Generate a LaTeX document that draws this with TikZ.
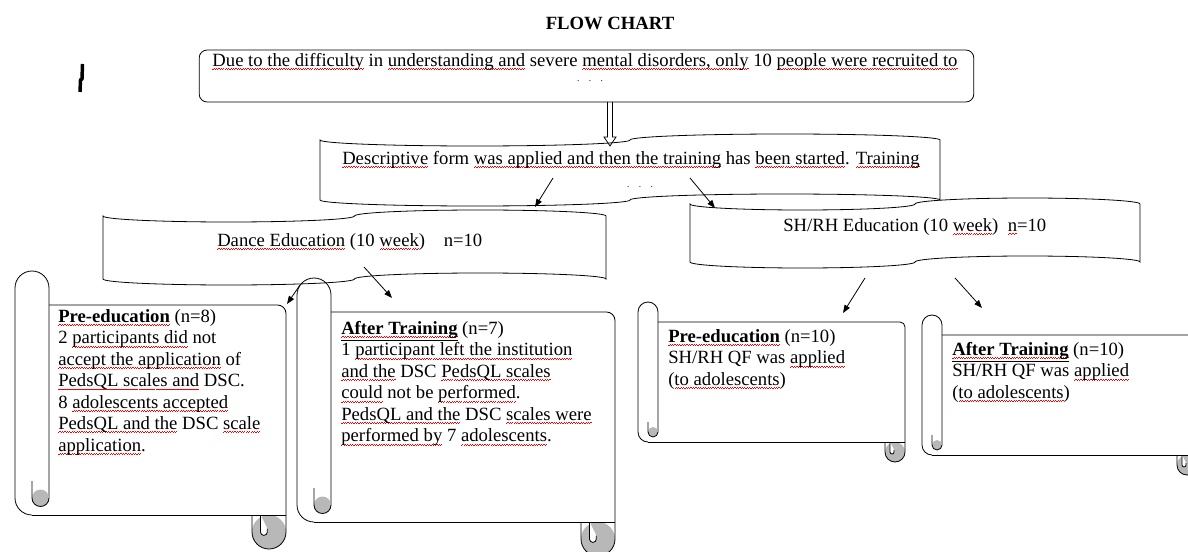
\documentclass[tikz,border=0pt]{standalone}
\usepackage{fontspec}
\setmainfont{Liberation Serif}
\usetikzlibrary{arrows.meta,calc}

\colorlet{curlgray}{black!28}
% spell-check squiggle under a word
\newsavebox{\sqbox}
\newcommand{\sqwave}{\hbox{\rule{0.9pt}{0.45pt}\raise0.7pt\hbox{\rule{0.9pt}{0.45pt}}}}
\newcommand{\sq}[1]{\sbox{\sqbox}{#1}\rlap{\lower2.6pt\hbox to \wd\sqbox{\color{red}\xleaders\sqwave\hfill}}\usebox{\sqbox}}

% wavy banner (punched tape): left, top, right, bottom
\newcommand{\punchtape}[4]{%
  \pgfmathsetmacro{\tq}{(#3-#1)/4}
  \draw[shapeline] (#1,#2) arc[start angle=180, end angle=0, x radius=\tq, y radius=6]
    arc[start angle=180, end angle=360, x radius=\tq, y radius=6]
    -- (#3,#4) arc[start angle=0, end angle=-180, x radius=\tq, y radius=6]
    arc[start angle=0, end angle=180, x radius=\tq, y radius=6] -- cycle;
}

% scroll: left, top, right, bottom, roll size
\newcommand{\scrollsheet}[5]{%
  \pgfmathsetmacro{\sa}{#5}
  \pgfmathsetmacro{\sb}{#5/2}
  \pgfmathsetmacro{\sc}{#5/4}
  % bottom right curl
  \fill[curlgray] (#3-\sb,#4-\sb) circle[radius=\sb];
  \fill[white] (#3-\sb-\sc,#4-\sa) -- (#3-\sb-\sc,#4-\sb)
    arc[start angle=180, end angle=0, radius=0.4*\sc] -- (#3-\sb-0.2*\sc,#4-\sb-0.4*\sc) -- cycle;
  \draw[shapeline] (#3-\sb-\sc,#4-\sa) -- (#3-\sb-\sc,#4-\sb)
    arc[start angle=180, end angle=0, radius=0.4*\sc] -- (#3-\sb-0.2*\sc,#4-\sb-0.4*\sc);
  % sheet
  \draw[shapeline] (#1+\sa,#2+\sa) -- (#3-\sc,#2+\sa) arc[start angle=270, end angle=360, radius=\sc]
    -- (#3,#4-\sb) arc[start angle=0, end angle=180, radius=\sb] -- (#3-\sa,#4-\sa);
  \draw[shapeline] (#1+\sb,#4-\sa) -- (#3,#4-\sa);
  % left roll
  \draw[shapeline] (#1+\sa,#4-\sa-\sb) -- (#1+\sa,#2+\sb) arc[start angle=0, end angle=-180, radius=\sb]
    -- (#1,#4-\sa-\sb) arc[start angle=180, end angle=90, radius=\sb];
  \fill[curlgray] (#1+\sb+\sc,#4-\sa-\sb) circle[radius=\sc];
  \draw[shapeline] (#1+\sb,#4-\sa-\sa) -- (#1+\sb,#4-\sa-\sb)
    arc[start angle=180, end angle=0, radius=\sc];
}

\begin{document}
\begin{tikzpicture}[x=0.75pt, y=-0.75pt,
    shapeline/.style={line width=0.6pt},
    arr/.style={line width=0.6pt, -{Triangle[length=6pt,width=4.5pt]}},
    every node/.style={font=\fontsize{14}{16.1}\selectfont, inner sep=0pt},
    scrolltext/.style={anchor=north west, align=left},
    bantext/.style={anchor=west}]
    \useasboundingbox (0,0) rectangle (1188,552);
    \clip (0,0) rectangle (1188,552);

    \node[font=\bfseries\fontsize{14}{16}\selectfont] (title) at (610,23) {FLOW CHART};
    % stray mark
    \draw[line width=2.6pt] (82.5,64) -- (82,79) -- (80.5,80) -- (80,92);

    % recruitment box
    \node[draw, line width=0.6pt, rounded corners=6pt, minimum width=581pt, minimum height=39pt] (recruit) at (586.5,76) {};
    \node (recruittext) at (585,62) {\sq{Due to the difficulty} in \sq{understanding and} severe \sq{mental disorders, only} 10 \sq{people were recruited to}};
    \node[font=\scriptsize] (recruitdots) at (590,81) {.\hspace{1em}.\hspace{1em}.};

    % banners
    \punchtape{320}{140}{940}{200}
    \punchtape{103}{216}{606}{279}
    \punchtape{690}{204}{1140}{262}
    \node[bantext] (desc) at (342,160) {\sq{Descriptive} form \sq{was applied and then the training} has \sq{been started}. \sq{Training}};
    \node[font=\scriptsize] (descdots) at (640,187) {.\hspace{1em}.\hspace{1em}.};
    \node[bantext] (dance) at (217,242) {\sq{Dance Education} (10 \sq{week})~~~ n=10};
    \node[bantext] (shrh) at (783,227) {SH/RH Education (10 \sq{week})~~\sq{n}=10};

    % scrolls
    \scrollsheet{15}{271}{286}{549}{34}
    \scrollsheet{297}{278}{615}{556}{34}
    \scrollsheet{638}{302}{905}{462}{20}
    \scrollsheet{922}{315}{1197}{475}{20}

    \node[scrolltext] (preone) at (58,309) {\textbf{\sq{Pre-education}} (n=8)\\
        2 \sq{participants did} not\\
        \sq{accept the application} of\\
        \sq{PedsQL scales and} DSC.\\
        8 \sq{adolescents accepted}\\
        \sq{PedsQL and the} DSC \sq{scale}\\
        \sq{application}.};
    \node[scrolltext] (afterone) at (341,321) {\textbf{\sq{\underline{After Training}}} (n=7)\\
        1 \sq{participant left the institution}\\
        \sq{and the} DSC \sq{PedsQL scales}\\
        \sq{could} not be \sq{performed}.\\
        \sq{PedsQL and the} DSC \sq{scales were}\\
        \sq{performed by} 7 \sq{adolescents}.};
    \node[scrolltext] (pretwo) at (668,329) {\textbf{\sq{Pre-education}} (n=10)\\
        SH/RH QF was \sq{applied}\\
        (\sq{to adolescents})};
    \node[scrolltext] (aftertwo) at (952,342) {\textbf{\sq{\underline{After Training}}} (n=10)\\
        SH/RH QF was \sq{applied}\\
        (\sq{to adolescents})};

    % connectors
    \coordinate (dtop) at (610,102);
    \coordinate (dtip) at (610,146);
    \draw[shapeline] ($(dtop)+(-2.5,0)$) -- ($(dtip)+(-2.5,-9)$) -- ($(dtip)+(-6,-9)$) -- (dtip)
        -- ($(dtip)+(6,-9)$) -- ($(dtip)+(2.5,-9)$) -- ($(dtop)+(2.5,0)$);

    \coordinate (a1s) at (553,178); \coordinate (a1e) at (535,207);
    \coordinate (a2s) at (690,178); \coordinate (a2e) at (715,208);
    \coordinate (a3s) at (300,285); \coordinate (a3e) at (287,304);
    \coordinate (a4s) at (364,267); \coordinate (a4e) at (392,298);
    \coordinate (a5s) at (865,278); \coordinate (a5e) at (843,313);
    \coordinate (a6s) at (955,278); \coordinate (a6e) at (982,308);
    \draw[arr] (a1s) -- (a1e);
    \draw[arr] (a2s) -- (a2e);
    \draw[arr] (a3s) -- (a3e);
    \draw[arr] (a4s) -- (a4e);
    \draw[arr] (a5s) -- (a5e);
    \draw[arr] (a6s) -- (a6e);
\end{tikzpicture}
\end{document}
